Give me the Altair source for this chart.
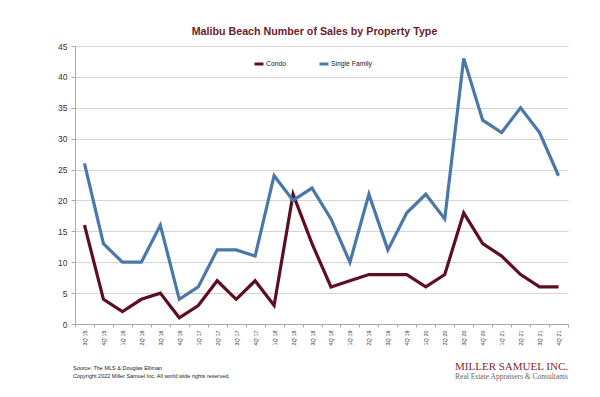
import altair as alt
import pandas as pd

quarters = ["3Q 15", "4Q 15", "1Q 16", "2Q 16", "3Q 16", "4Q 16", "1Q 17", "2Q 17", "3Q 17",
            "4Q 17", "1Q 18", "2Q 18", "3Q 18", "4Q 18", "1Q 19", "2Q 19", "3Q 19", "4Q 19",
            "1Q 20", "2Q 20", "3Q 20", "4Q 20", "1Q 21", "2Q 21", "3Q 21", "4Q 21"]
condo = [16, 4, 2, 4, 5, 1, 3, 7, 4, 7, 3, 21, 13, 6, 7, 8, 8, 8, 6, 8, 18, 13, 11, 8, 6, 6]
single_family = [26, 13, 10, 10, 16, 4, 6, 12, 12, 11, 24, 20, 22, 17, 10, 21, 12, 18, 21, 17,
                 43, 33, 31, 35, 31, 24]
series_names = ["Condo", "Single Family"]
series_colors = ["#5e0f1f", "#4a78a9"]
y_ticks = [0, 5, 10, 15, 20, 25, 30, 35, 40, 45]

rows = []
for i, q in enumerate(quarters):
    rows.append({"Quarter": q, "Type": "Condo", "Sales": condo[i], "order": i})
    rows.append({"Quarter": q, "Type": "Single Family", "Sales": single_family[i], "order": i})
df = pd.DataFrame(rows)

FONT = "Liberation Sans"

lines = alt.Chart(df).mark_line(strokeWidth=3.2, strokeJoin="miter").encode(
    x=alt.X("Quarter:N", sort=quarters, title=None,
            scale=alt.Scale(paddingInner=0, paddingOuter=0),
            axis=alt.Axis(labelAngle=-90, labelFontSize=5.5, labelColor="#333333",
                          labelFont=FONT, labelPadding=3, tickSize=3, tickColor="#aaaaaa",
                          domainColor="#aaaaaa", grid=False, tickBand="extent")),
    y=alt.Y("Sales:Q", title=None,
            scale=alt.Scale(domain=[0, 45], nice=False),
            axis=alt.Axis(values=y_ticks, labelFontSize=8.5, labelColor="#333333",
                          labelFont=FONT, labelPadding=4, tickSize=4, tickColor="#aaaaaa",
                          domainColor="#aaaaaa", gridColor="#d4d4d4")),
    color=alt.Color("Type:N", scale=alt.Scale(domain=series_names, range=series_colors),
                    legend=alt.Legend(title=None, orient="none", legendX=178, legendY=12,
                                      direction="horizontal", symbolType="stroke",
                                      symbolSize=81, symbolStrokeWidth=3, labelFontSize=6.8,
                                      labelFont=FONT, labelColor="#222222", labelOffset=1,
                                      columnPadding=26, padding=0)),
    order="order:Q",
)

source_text = alt.Chart(pd.DataFrame({"t": ["Source: The MLS & Douglas Elliman"]})).mark_text(
    align="left", baseline="middle", fontSize=5.5, font=FONT, color="#222222"
).encode(text="t:N", x=alt.value(-2), y=alt.value(322))

copy_text = alt.Chart(pd.DataFrame({"t": ["Copyright 2022 Miller Samuel Inc.  All world wide rights reserved."]})).mark_text(
    align="left", baseline="middle", fontSize=5.5, font=FONT, color="#222222"
).encode(text="t:N", x=alt.value(-2), y=alt.value(330))

logo = alt.Chart(pd.DataFrame({"t": ["MILLER SAMUEL INC."]})).mark_text(
    align="right", baseline="middle", fontSize=11, font="Liberation Serif", color="#7a2a36"
).encode(text="t:N", x=alt.value(493), y=alt.value(321))

tagline = alt.Chart(pd.DataFrame({"t": ["Real Estate Appraisers & Consultants"]})).mark_text(
    align="right", baseline="middle", fontSize=7.5, font="Liberation Serif", color="#666666"
).encode(text="t:N", x=alt.value(493), y=alt.value(331))

chart = alt.layer(lines, source_text, copy_text, logo, tagline).properties(
    width=493, height=278,
    title=alt.TitleParams("Malibu Beach Number of Sales by Property Type", fontSize=10.7,
                          font=FONT, fontWeight="bold", color="#6b1c2b", anchor="middle",
                          dx=-7, offset=4),
    autosize=alt.AutoSizeParams(type="none"),
    padding={"left": 67, "top": 38, "right": 24, "bottom": 60},
    background="white",
).configure_view(stroke=None)

chart.save("out.html", embed_options={"renderer": "svg", "actions": False})
